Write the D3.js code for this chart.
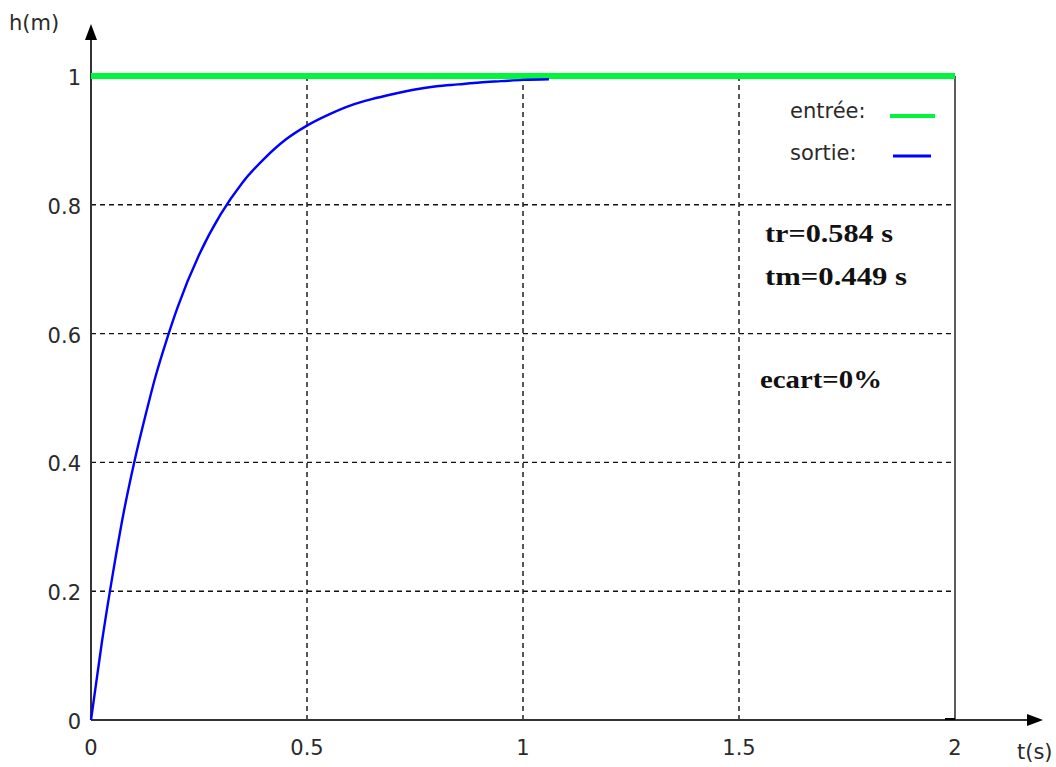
<!DOCTYPE html>
<html>
<head>
<meta charset="utf-8">
<script src="https://cdn.jsdelivr.net/npm/d3@7"></script>
<style>
  body { margin: 0; background: #fff; }
  .tick-label { font-family: "DejaVu Sans", sans-serif; font-size: 21px; fill: #2a2a2a; }
  .legend-label { font-family: "DejaVu Sans", sans-serif; font-size: 21px; fill: #2a2a2a; }
  .note { font-family: "Liberation Serif", "Times New Roman", serif; font-size: 25px; font-weight: bold; fill: #111; }
</style>
</head>
<body>
<div id="chart"></div>
<script>
// Step response of the level h(m) against time t(s)
const timeValues = [0, 0.025, 0.05, 0.075, 0.1, 0.125, 0.15, 0.175, 0.2, 0.25, 0.3, 0.35, 0.4, 0.45,
  0.5, 0.55, 0.6, 0.65, 0.7, 0.75, 0.8, 0.85, 0.9, 0.95, 1.0, 1.06];
const outputValues = [0, 0.12, 0.225, 0.32, 0.40, 0.47, 0.535, 0.59, 0.64, 0.722, 0.785, 0.834, 0.871, 0.901,
  0.923, 0.940, 0.954, 0.964, 0.972, 0.979, 0.984, 0.987, 0.990, 0.992, 0.994, 0.995];
const inputValue = 1;
const xTicks = [0, 0.5, 1, 1.5, 2];
const yTicks = [0, 0.2, 0.4, 0.6, 0.8, 1];
const legendItems = [
  { label: "entrée:", color: "#00f53c" },
  { label: "sortie:", color: "#0000ff" }
];
const notes = ["tr=0.584 s", "tm=0.449 s", "ecart=0%"];

const width = 1056, height = 767;
const svg = d3.select("#chart").append("svg")
  .attr("width", width).attr("height", height);

const x = d3.scaleLinear().domain([0, 2]).range([91, 955]);
const y = d3.scaleLinear().domain([0, 1]).range([720, 76]);

// dashed grid
svg.append("g").selectAll("line")
  .data(xTicks.filter(t => t > 0 && t < 2))
  .enter().append("line")
  .attr("x1", d => x(d)).attr("x2", d => x(d))
  .attr("y1", y(0)).attr("y2", y(1))
  .attr("stroke", "#111").attr("stroke-width", 1.4)
  .attr("stroke-dasharray", "5,4");

svg.append("g").selectAll("line")
  .data(yTicks.filter(t => t > 0 && t < 1))
  .enter().append("line")
  .attr("x1", x(0)).attr("x2", x(2))
  .attr("y1", d => y(d)).attr("y2", d => y(d))
  .attr("stroke", "#111").attr("stroke-width", 1.4)
  .attr("stroke-dasharray", "5,4");

// frame right side
svg.append("line")
  .attr("x1", x(2)).attr("x2", x(2))
  .attr("y1", y(0)).attr("y2", y(1))
  .attr("stroke", "#333").attr("stroke-width", 1.6);

// axes with arrows
svg.append("line")
  .attr("x1", x(0)).attr("x2", x(0))
  .attr("y1", y(0)).attr("y2", 36)
  .attr("stroke", "#333").attr("stroke-width", 2);
svg.append("path")
  .attr("d", `M${x(0)},24 L${x(0) - 6},40 L${x(0) + 6},40 Z`)
  .attr("fill", "#000");

svg.append("line")
  .attr("x1", x(0)).attr("x2", 1030)
  .attr("y1", y(0)).attr("y2", y(0))
  .attr("stroke", "#333").attr("stroke-width", 2);
svg.append("path")
  .attr("d", `M1043,${y(0)} L1027,${y(0) - 6} L1027,${y(0) + 6} Z`)
  .attr("fill", "#000");

// small tick at x=2
svg.append("line")
  .attr("x1", x(2) - 10).attr("x2", x(2))
  .attr("y1", y(0) - 1).attr("y2", y(0) - 1)
  .attr("stroke", "#000").attr("stroke-width", 2);

// tick labels
svg.append("g").selectAll("text")
  .data(yTicks).enter().append("text")
  .attr("class", "tick-label")
  .attr("x", x(0) - 10).attr("y", d => y(d) + 9)
  .attr("text-anchor", "end")
  .text(d => d);

svg.append("g").selectAll("text")
  .data(xTicks).enter().append("text")
  .attr("class", "tick-label")
  .attr("x", d => x(d)).attr("y", 755)
  .attr("text-anchor", "middle")
  .text(d => d);

svg.append("text").attr("class", "tick-label")
  .attr("x", 9).attr("y", 30).text("h(m)");
svg.append("text").attr("class", "tick-label")
  .attr("x", 1017).attr("y", 759).text("t(s)");

// input step
svg.append("line")
  .attr("x1", x(0)).attr("x2", x(2))
  .attr("y1", y(inputValue)).attr("y2", y(inputValue))
  .attr("stroke", legendItems[0].color).attr("stroke-width", 6);

// output curve
const line = d3.line()
  .curve(d3.curveMonotoneX)
  .x(d => x(d[0]))
  .y(d => y(d[1]));
svg.append("path")
  .datum(timeValues.map((t, i) => [t, outputValues[i]]))
  .attr("d", line)
  .attr("fill", "none")
  .attr("stroke", legendItems[1].color)
  .attr("stroke-width", 2.4);

// legend
const legend = svg.append("g").selectAll("g")
  .data(legendItems).enter().append("g")
  .attr("transform", (d, i) => `translate(0,${118 + i * 42})`);
legend.append("text").attr("class", "legend-label")
  .attr("x", 790).attr("y", 0).text(d => d.label);
legend.append("line")
  .attr("x1", (d, i) => i === 0 ? 890 : 893)
  .attr("x2", (d, i) => i === 0 ? 935 : 931)
  .attr("y1", (d, i) => i === 0 ? -2 : -4)
  .attr("y2", (d, i) => i === 0 ? -2 : -4)
  .attr("stroke", d => d.color)
  .attr("stroke-width", (d, i) => i === 0 ? 4 : 3);

// annotations
svg.append("g").selectAll("text")
  .data(notes).enter().append("text")
  .attr("class", "note")
  .attr("x", (d, i) => i === 2 ? 760 : 765)
  .attr("y", (d, i) => [242, 285, 388][i])
  .attr("textLength", (d, i) => [128, 142, 122][i])
  .attr("lengthAdjust", "spacingAndGlyphs")
  .text(d => d);
</script>
</body>
</html>
